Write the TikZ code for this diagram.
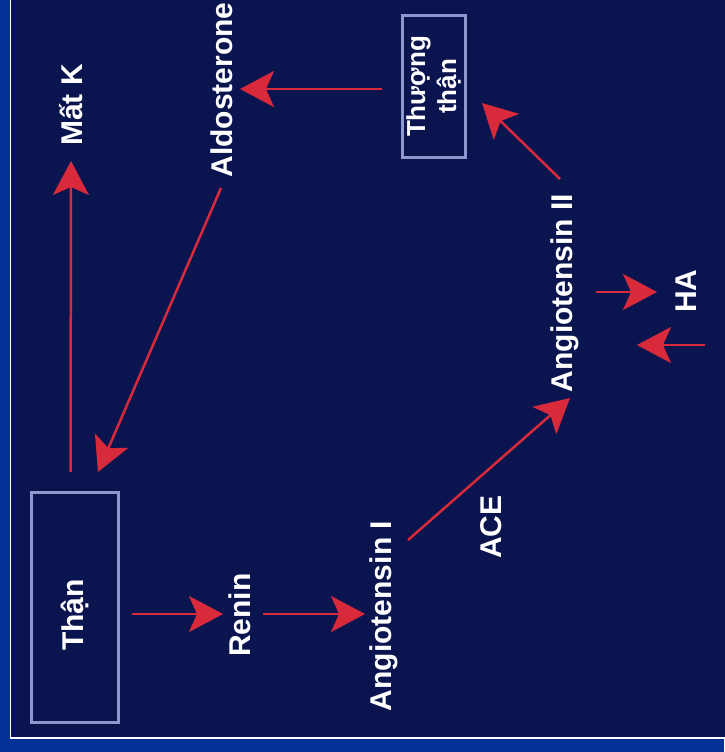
\documentclass[tikz,border=0pt]{standalone}
\usepackage{fontspec}
\setmainfont{Liberation Sans}
\usetikzlibrary{arrows.meta,calc}
\definecolor{outerblue}{RGB}{4,50,150}
\definecolor{navy}{RGB}{10,21,80}
\definecolor{arrred}{RGB}{216,42,58}
\definecolor{boxline}{RGB}{140,152,206}
\tikzset{
  lbl/.style={text=white, font=\fontsize{30}{36}\selectfont\bfseries, rotate=90, inner sep=0pt},
  boxnode/.style={draw=boxline, line width=3pt, rectangle, inner sep=0pt},
  arr/.style={draw=arrred, line width=2.5pt, -{Stealth[length=34pt,width=36pt,inset=8pt]}}
}
\begin{document}
\begin{tikzpicture}[x=1pt,y=-1pt]
\useasboundingbox (0,0) rectangle (724,752);
\fill[outerblue] (0,0) rectangle (724,752);
\fill[navy] (10,-5) rectangle (730,738);
\draw[white, line width=1.5pt] (10.5,-5) -- (10.5,738) -- (730,738);

\node[boxnode, minimum width=87pt, minimum height=230pt] (thanbox) at (74.5,607) {};
\node[lbl] (than) at (75,615) {Thận};
\node[lbl] (renin) at (240,615) {Renin};
\node[lbl] (angI) at (384,616) {Angiotensin I};
\node[lbl] (ace) at (491,527) {ACE};
\node[lbl] (angII) at (565,293) {Angiotensin II};
\node[lbl] (ha) at (686,291) {HA};
\node[lbl] (matk) at (71,105) {Mất K};
\node[lbl] (aldo) at (222,90) {Aldosterone};
\node[boxnode, rotate=90, text=white, align=center, font=\fontsize{26}{31}\selectfont\bfseries,
      minimum width=141pt, minimum height=63pt] (thuong) at (433.5,86.5) {Thượng\\thận};
\coordinate (hasrc) at (705,345);

\draw[arr] ($(thanbox)+(-4,-135)$) -- ($(matk)+(0,56)$);
\draw[arr] ($(aldo)+(-1,98)$) -- ($(thanbox)+(23.5,-135)$);
\draw[arr] ($(thuong)+(-51.5,2.5)$) -- ($(aldo)+(18,-1)$);
\draw[arr] ($(angII)+(-5,-114)$) -- ($(thuong)+(48.5,16.5)$);
\draw[arr] ($(thanbox)+(57.5,7)$) -- ($(renin)+(-17,-1)$);
\draw[arr] ($(renin)+(23,-1)$) -- ($(angI)+(-19,-2)$);
\draw[arr] ($(angI)+(24,-76)$) -- ($(angII)+(5,105)$);
\draw[arr] ($(angII)+(31,-1)$) -- ($(ha)+(-29,1)$);
\draw[arr] (hasrc) -- ($(ha)+(-49,54)$);
\end{tikzpicture}
\end{document}
